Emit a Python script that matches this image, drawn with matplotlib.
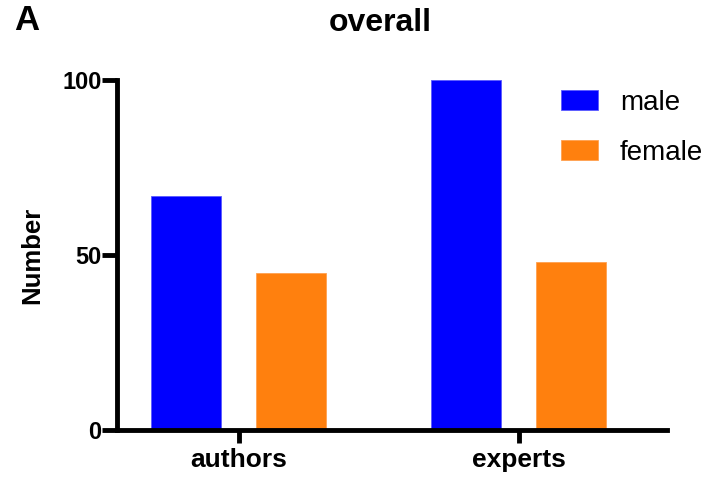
import matplotlib
matplotlib.use("Agg")
import matplotlib.pyplot as plt
import numpy as np

plt.rcParams['font.family'] = ['Liberation Sans', 'DejaVu Sans']

categories = ["authors", "experts"]
series_names = ["male", "female"]
male = [67, 100]
female = [45, 48]
colors = ["#0000FF", "#FF800E"]
yticks = [0, 50, 100]

W, H = 708, 478
fig = plt.figure(figsize=(W / 100, H / 100), dpi=100)
ax = fig.add_axes([117 / W, (H - 430) / H, (667 - 117) / W, 350 / H])

x = np.arange(len(categories))
bw = 0.25
off = 0.1875
ax.bar(x - off, male, bw, color=colors[0], label=series_names[0], edgecolor="#5a5aff", linewidth=0.6)
ax.bar(x + off, female, bw, color=colors[1], label=series_names[1], edgecolor="#ffa050", linewidth=0.6)

ax.set_xlim(-0.434, 1.530)
ax.set_ylim(0, 100)
ax.set_xticks(x)
ax.set_xticklabels(categories, fontsize=19, fontweight="bold")
ax.set_yticks(yticks)
ax.set_yticklabels([str(t) for t in yticks], fontsize=17, fontweight="bold")

for s in ["top", "right"]:
    ax.spines[s].set_visible(False)
for s in ["left", "bottom"]:
    ax.spines[s].set_linewidth(3.5)
    ax.spines[s].set_capstyle("projecting")
ax.tick_params(axis="y", width=3.5, length=11, direction="out", pad=0)
ax.tick_params(axis="x", width=3.5, length=9, direction="out", pad=4)

ax.set_ylabel("Number", fontsize=18.5, fontweight="bold", labelpad=13)

fig.text(380 / W, 1 - 23 / H, "overall", fontsize=23, fontweight="bold", ha="center", va="center")
fig.text(14 / W, 1 - 21 / H, "A", fontsize=25, fontweight="bold", ha="left", va="center")

leg = ax.legend(frameon=False, loc="upper left", bbox_to_anchor=(561 / W, 1 - 90 / H),
                bbox_transform=fig.transFigure, fontsize=20, handlelength=1.32,
                handleheight=0.75, handletextpad=0.8, labelspacing=0.85, borderpad=0,
                borderaxespad=0)

fig.savefig("out.png", dpi=100)
